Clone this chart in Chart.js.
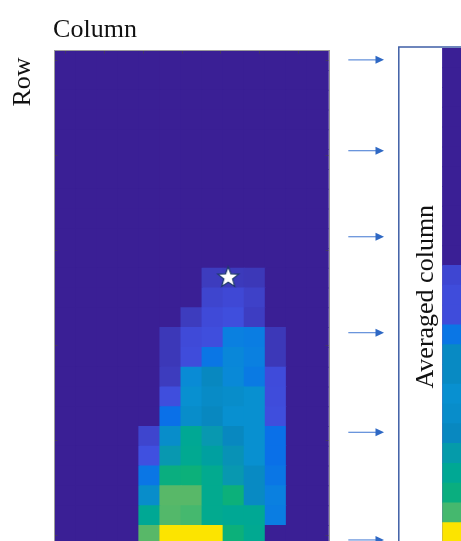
<!DOCTYPE html>
<html>
<head>
<meta charset="utf-8">
<title>Row / column heat map</title>
<script src="https://cdn.jsdelivr.net/npm/chart.js@4.4.1/dist/chart.umd.min.js"></script>
<style>
  html, body { margin: 0; padding: 0; background: #fff; overflow: hidden; width: 461px; height: 541px; }
  #wrap { position: relative; width: 461px; height: 541px; overflow: hidden; }
  canvas { position: absolute; top: 0; }
  #main { left: 0; }
  #avg { left: 340px; }
</style>
</head>
<body>
<div id="wrap">
  <canvas id="main" width="345" height="560"></canvas>
  <canvas id="avg" width="140" height="560"></canvas>
</div>
<script>
// ---- data -------------------------------------------------------------
const columnCount = 13;
const rowCount = 25;

// normalised intensity per cell, one array per row (top row first)
const gridValues = [
  [0,0,0,0,0,0,0,0,0,0,0,0,0],
  [0,0,0,0,0,0,0,0,0,0,0,0,0],
  [0,0,0,0,0,0,0,0,0,0,0,0,0],
  [0,0,0,0,0,0,0,0,0,0,0,0,0],
  [0,0,0,0,0,0,0,0,0,0,0,0,0],
  [0,0,0,0,0,0,0,0,0,0,0,0,0],
  [0,0,0,0,0,0,0,0,0,0,0,0,0],
  [0,0,0,0,0,0,0,0,0,0,0,0,0],
  [0,0,0,0,0,0,0,0,0,0,0,0,0],
  [0,0,0,0,0,0,0,0,0,0,0,0,0],
  [0,0,0,0,0,0,0,0,0,0,0,0,0],
  [0,0,0,0,0,0,0,0.12,0.11,0.10,0,0,0],
  [0,0,0,0,0,0,0,0.17,0.19,0.15,0,0,0],
  [0,0,0,0,0,0,0.12,0.20,0.23,0.13,0,0,0],
  [0,0,0,0,0,0.10,0.20,0.23,0.33,0.32,0.10,0,0],
  [0,0,0,0,0,0.10,0.22,0.30,0.36,0.33,0.10,0,0],
  [0,0,0,0,0,0.12,0.38,0.45,0.37,0.31,0.21,0,0],
  [0,0,0,0,0,0.23,0.40,0.43,0.42,0.40,0.22,0,0],
  [0,0,0,0,0,0.28,0.42,0.45,0.40,0.40,0.23,0,0],
  [0,0,0,0,0.17,0.42,0.60,0.50,0.45,0.40,0.28,0,0],
  [0,0,0,0,0.25,0.50,0.61,0.55,0.48,0.40,0.28,0,0],
  [0,0,0,0,0.30,0.68,0.70,0.62,0.50,0.44,0.30,0,0],
  [0,0,0,0,0.42,0.80,0.80,0.62,0.70,0.44,0.33,0,0],
  [0,0,0,0,0.60,0.79,0.76,0.62,0.60,0.60,0.32,0,0],
  [0,0,0,0,0.80,1.00,1.00,1.00,0.70,0.61,0,0,0]
];

// row means, each rescaled to its own colour range
const averagedColumn = [
  0,0,0,0,0,0,0,0,0,0,0,
  0.18,0.22,0.22,0.30,0.44,0.44,0.40,0.42,0.45,0.52,0.60,0.68,0.76,1.00
];

// marked cell (column, row) in grid units
const starColumn = [8.24];
const starRow = [11.44];

// rows the arrows point at on the averaged column
const arrowRows = [0.6, 5.19, 9.54, 14.39, 19.43, 24.87];

// axis tick positions in grid units
const topTicks = [0.49, 2.34, 4.18, 6.03, 7.87, 9.72, 11.57];
const sideTicks = [0.47, 5.27, 10.07, 14.87, 19.67, 24.47];

// ---- colour map -------------------------------------------------------
const colorStops = [
  [0.00, '#3a1f95'],
  [0.10, '#3c38b8'],
  [0.20, '#3f4ad8'],
  [0.25, '#3f50e0'],
  [0.28, '#0a70e8'],
  [0.33, '#0a80e0'],
  [0.40, '#0890d0'],
  [0.45, '#0888c0'],
  [0.50, '#0898b0'],
  [0.55, '#00a0a0'],
  [0.60, '#00a894'],
  [0.70, '#0cb07a'],
  [0.75, '#40b870'],
  [0.80, '#58b868'],
  [1.00, '#fce400']
];
function hexToRgb(h) {
  const n = parseInt(h.slice(1), 16);
  return [(n >> 16) & 255, (n >> 8) & 255, n & 255];
}
function colorFor(v) {
  if (v <= colorStops[0][0]) return colorStops[0][1];
  for (let i = 1; i < colorStops.length; i++) {
    const [p1, c1] = colorStops[i];
    if (v <= p1) {
      const [p0, c0] = colorStops[i - 1];
      const t = (v - p0) / (p1 - p0);
      const a = hexToRgb(c0), b = hexToRgb(c1);
      const m = a.map((x, k) => Math.round(x + (b[k] - x) * t));
      return `rgb(${m[0]},${m[1]},${m[2]})`;
    }
  }
  return colorStops[colorStops.length - 1][1];
}

// ---- helpers ----------------------------------------------------------
const serif = "'Liberation Serif', 'Times New Roman', serif";
function verticalText(ctx, text, x, y) {
  ctx.save();
  ctx.translate(x, y);
  ctx.rotate(-Math.PI / 2);
  ctx.textAlign = 'center';
  ctx.textBaseline = 'alphabetic';
  ctx.fillText(text, 0, 0);
  ctx.restore();
}
function makeStar(radius) {
  const size = Math.ceil(radius * 2 + 4);
  const c = document.createElement('canvas');
  c.width = size; c.height = size;
  const g = c.getContext('2d');
  const cx = size / 2, cy = size / 2 + radius * 0.05;
  g.beginPath();
  for (let i = 0; i < 10; i++) {
    const r = i % 2 === 0 ? radius : radius * 0.42;
    const a = -Math.PI / 2 + i * Math.PI / 5;
    const px = cx + r * Math.cos(a), py = cy + r * Math.sin(a);
    if (i === 0) g.moveTo(px, py); else g.lineTo(px, py);
  }
  g.closePath();
  g.fillStyle = '#ffffff';
  g.fill();
  g.lineWidth = 1.2;
  g.strokeStyle = '#1d3a6a';
  g.stroke();
  return c;
}

// paints the zero colour under the cells so no seams show between them
const areaFill = {
  id: 'areaFill',
  beforeDatasetsDraw(chart) {
    const { ctx, chartArea: a } = chart;
    ctx.save();
    ctx.fillStyle = colorFor(0);
    ctx.fillRect(a.left, a.top, a.right - a.left, a.bottom - a.top);
    ctx.restore();
  }
};

// ---- main grid --------------------------------------------------------
const cells = [];
const cellColors = [];
gridValues.forEach((row, r) => {
  row.forEach((v, c) => {
    cells.push({ x: c + 0.5, y: [r, r + 1] });
    cellColors.push(colorFor(v));
  });
});

const gridFrame = {
  id: 'gridFrame',
  afterDraw(chart) {
    const { ctx, chartArea: a, scales } = chart;
    ctx.save();
    // axis ticks (inward)
    ctx.strokeStyle = 'rgba(70,70,70,0.6)';
    ctx.lineWidth = 1;
    ctx.beginPath();
    topTicks.forEach(t => {
      const x = Math.round(scales.x.getPixelForValue(t)) + 0.5;
      ctx.moveTo(x, a.top); ctx.lineTo(x, a.top + 3);
      ctx.moveTo(x, a.bottom); ctx.lineTo(x, a.bottom - 3);
    });
    sideTicks.forEach(t => {
      const y = Math.round(scales.y.getPixelForValue(t)) + 0.5;
      ctx.moveTo(a.left, y); ctx.lineTo(a.left + 3, y);
      ctx.moveTo(a.right, y); ctx.lineTo(a.right - 3, y);
    });
    ctx.stroke();
    // axes box
    ctx.strokeStyle = '#9a9a9a';
    ctx.lineWidth = 1;
    ctx.strokeRect(Math.round(a.left) - 0.5, Math.round(a.top) - 0.5,
                   Math.round(a.right - a.left) + 1, Math.round(a.bottom - a.top) + 1);
    // axis titles
    ctx.fillStyle = '#111';
    ctx.font = `26px ${serif}`;
    ctx.textAlign = 'left';
    ctx.textBaseline = 'alphabetic';
    ctx.fillText('Column', a.left - 1.5, 36.5);
    verticalText(ctx, 'Row', 30, 82);
    ctx.restore();
  }
};

new Chart(document.getElementById('main'), {
  type: 'bar',
  data: {
    datasets: [
      {
        type: 'scatter',
        label: 'Marked cell',
        data: starColumn.map((x, i) => ({ x, y: starRow[i] })),
        pointStyle: makeStar(11),
        pointRadius: 11,
        order: 0,
        xAxisID: 'x',
        yAxisID: 'y'
      },
      {
        label: 'Intensity',
        data: cells,
        backgroundColor: cellColors,
        borderWidth: 0,
        inflateAmount: 0.5,
        barPercentage: 1,
        categoryPercentage: 1,
        order: 1,
        xAxisID: 'x',
        yAxisID: 'y'
      }
    ]
  },
  options: {
    responsive: false,
    animation: false,
    events: [],
    layout: { padding: { left: 54.6, top: 50.7, right: 345 - 328.5, bottom: 560 - 545.2 } },
    plugins: { legend: { display: false }, tooltip: { enabled: false } },
    scales: {
      x: { type: 'linear', min: 0, max: columnCount, offset: false, display: false, ticks: { stepSize: 1 } },
      y: { type: 'linear', min: 0, max: rowCount, reverse: true, display: false, ticks: { stepSize: 1 } }
    }
  },
  plugins: [areaFill, gridFrame]
});

// ---- averaged column --------------------------------------------------
const avgCells = averagedColumn.map((v, r) => ({ x: 0.5, y: [r, r + 1] }));
const avgColors = averagedColumn.map(colorFor);

const avgFrame = {
  id: 'avgFrame',
  afterDraw(chart) {
    const { ctx, scales } = chart;
    ctx.save();
    // arrows
    arrowRows.forEach(r => {
      const y = scales.y.getPixelForValue(r);
      ctx.strokeStyle = '#6a95dc';
      ctx.lineWidth = 1.3;
      ctx.beginPath();
      ctx.moveTo(8.3, y); ctx.lineTo(37, y);
      ctx.stroke();
      ctx.fillStyle = '#2e68c4';
      ctx.beginPath();
      ctx.moveTo(44, y); ctx.lineTo(35.5, y - 4); ctx.lineTo(35.5, y + 4);
      ctx.closePath();
      ctx.fill();
    });
    // surrounding box
    ctx.strokeStyle = '#3f5fa6';
    ctx.lineWidth = 1.5;
    ctx.strokeRect(58.8, 47, 300, 700);
    // label
    ctx.fillStyle = '#111';
    ctx.font = `26px ${serif}`;
    verticalText(ctx, 'Averaged column', 93, 296.7);
    ctx.restore();
  }
};

new Chart(document.getElementById('avg'), {
  type: 'bar',
  data: {
    datasets: [{
      label: 'Averaged column',
      data: avgCells,
      backgroundColor: avgColors,
      borderWidth: 0,
      inflateAmount: 0.5,
      barPercentage: 1,
      categoryPercentage: 1
    }]
  },
  options: {
    responsive: false,
    animation: false,
    events: [],
    layout: { padding: { left: 102.3, top: 48, right: 0, bottom: 560 - 542.5 } },
    plugins: { legend: { display: false }, tooltip: { enabled: false } },
    scales: {
      x: { type: 'linear', min: 0, max: 1, offset: false, display: false, ticks: { stepSize: 1 } },
      y: { type: 'linear', min: 0, max: rowCount, reverse: true, display: false, ticks: { stepSize: 1 } }
    }
  },
  plugins: [areaFill, avgFrame]
});
</script>
</body>
</html>
